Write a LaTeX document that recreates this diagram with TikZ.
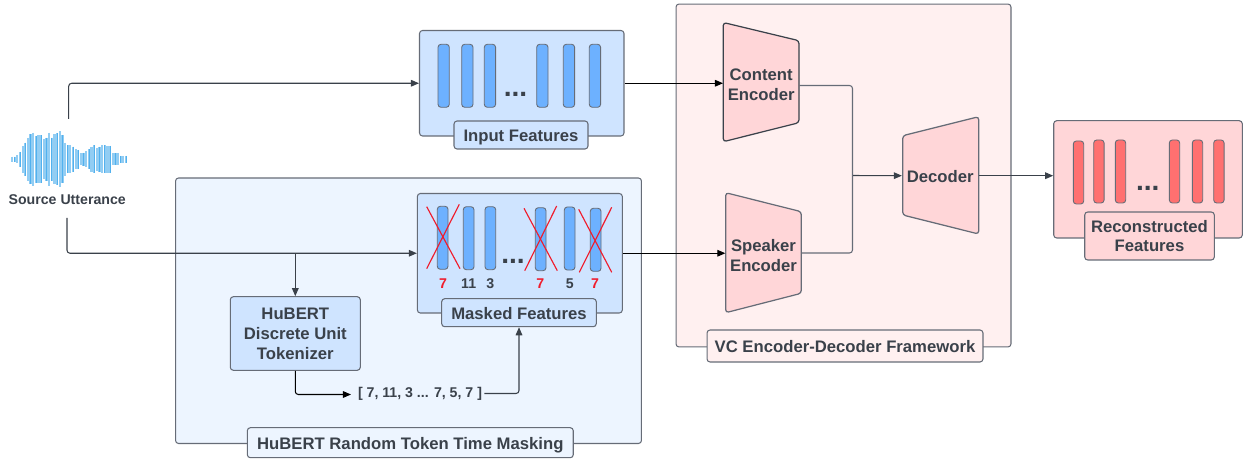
\documentclass[tikz,border=0pt]{standalone}
\usepackage{fontspec}
\setmainfont{Liberation Sans}
\usetikzlibrary{arrows.meta}
\definecolor{inkgray}{HTML}{3A414A}
\definecolor{edgegray}{HTML}{666C77}
\definecolor{bluefill}{HTML}{CFE4FF}
\definecolor{bluepanel}{HTML}{EDF5FF}
\definecolor{bluebar}{HTML}{6DB1FF}
\definecolor{redfill}{HTML}{FFD6D8}
\definecolor{redpanel}{HTML}{FFF0F0}
\definecolor{redbar}{HTML}{FF7070}
\definecolor{crossred}{HTML}{F01C2C}
\definecolor{wavelight}{HTML}{92CDF3}
\definecolor{wavedark}{HTML}{52B1EE}
\tikzset{
	box/.style={draw=edgegray, line width=0.6pt, rounded corners=1.7pt, text=inkgray, align=center, inner sep=0pt, font=\fontsize{9.5}{11.3}\selectfont\bfseries},
	oneline/.style={text height=7.9pt, text depth=0pt},
	txt/.style={text=inkgray, inner sep=0pt, font=\fontsize{8.05}{10}\selectfont\bfseries},
	dots/.style={text=inkgray, inner sep=0pt, anchor=base, font=\fontsize{16}{16}\selectfont\bfseries},
	trap/.style={draw=edgegray, line width=0.7pt, rounded corners=1.7pt, fill=redfill},
	traptxt/.style={text=inkgray, align=center, inner sep=0pt, font=\fontsize{9.5}{11.3}\selectfont\bfseries},
	bluebarstyle/.style={draw=edgegray, line width=0.5pt, rounded corners=1.7pt, fill=bluebar},
	redbarstyle/.style={draw=edgegray, line width=0.5pt, rounded corners=1.7pt, fill=redbar},
	cross/.style={draw=crossred, line width=0.65pt},
	conn/.style={draw=inkgray, line width=0.6pt, rounded corners=1.7pt},
	arrow/.style={conn, -{Triangle[length=4.6pt,width=3.8pt]}}
}

\begin{document}
\begin{tikzpicture}[x=0.02cm, y=-0.02cm]
	\useasboundingbox (0, 0) rectangle (1247, 459);
	
	% panels
	\node[box, fill=bluepanel, minimum width=9.32cm, minimum height=5.31cm] (maskpanel) at (408.5, 310.75) {};
	\node[box, fill=redpanel, minimum width=6.7cm, minimum height=6.86cm] (vcpanel) at (843.5, 175.5) {};
	\node[box, oneline, fill=bluepanel, minimum width=6.52cm, minimum height=0.6cm] (masklabel) at (410.3, 442.7) {HuBERT Random Token Time Masking};
	\node[box, oneline, fill=redpanel, minimum width=5.52cm, minimum height=0.64cm] (vclabel) at (845, 346) {VC Encoder-Decoder Framework};
	
	% waveform
	\foreach \h [count=\i] in {8,8,12,22,40,50,65,75,80,70,72,72,60,65,80,65,75,78,84,72,50,42,42,38,30,28,18,20,24,30,38,42,34,38,42,42,40,40,18,18,18,10,10,10} {
		\pgfmathsetmacro{\xpos}{9.4+2.65*\i}
		\pgfmathsetmacro{\ypos}{\h/3}
		\draw[wavelight, line width=1.3pt] (\xpos, 159.3-\ypos) -- (\xpos, 159.3+\ypos);
		\ifodd\i\else
			\draw[wavedark, line width=0.45pt] (\xpos, 159.3-\ypos) -- (\xpos, 159.3+\ypos);
		\fi
	}
	\node[txt] (source) at (67.2, 199.5) {Source Utterance};
	\coordinate (sourcetop) at (68.7, 119);
	\coordinate (sourcebot) at (67, 218);
	
	% input features
	\node[box, fill=bluefill, minimum width=4.09cm, minimum height=2.11cm] (inputbox) at (521.75, 83.25) {};
	\foreach \x in {438, 461.7, 484.3, 536.7, 563.3, 589.3}
		\draw[bluebarstyle] (\x, 44.3) rectangle ++(11.3, 63);
	\node[dots] (inputdots) at (515.5, 97) {...};
	\node[box, oneline, fill=bluefill, minimum width=2.68cm, minimum height=0.56cm] (inputlabel) at (521, 135) {Input Features};
	
	% masked features
	\node[box, fill=bluefill, minimum width=4.1cm, minimum height=2.39cm] (maskbox) at (519.85, 253.25) {};
	\draw[bluebarstyle] (437.3, 206.3) rectangle ++(10.7, 63);
	\draw[bluebarstyle] (463.3, 206.7) rectangle ++(10.7, 63);
	\draw[bluebarstyle] (485, 206.7) rectangle ++(10.7, 63);
	\draw[bluebarstyle] (535.3, 207.7) rectangle ++(10.7, 63);
	\draw[bluebarstyle] (564.3, 207) rectangle ++(10.7, 63);
	\draw[bluebarstyle] (590.3, 208.3) rectangle ++(10.7, 63);
	\draw[cross] (426.7, 206.7) -- (460, 268.7);
	\draw[cross] (459.3, 204.3) -- (426.7, 268.7);
	\draw[cross] (524, 208.3) -- (557.3, 270.7);
	\draw[cross] (556.7, 206) -- (524.7, 270.7);
	\draw[cross] (578.7, 209.3) -- (611.7, 272.3);
	\draw[cross] (611.7, 207.3) -- (579.3, 272.3);
	\node[dots] (maskdots) at (513, 263) {...};
	\node[txt, text=crossred] (numa) at (443, 283.5) {7};
	\node[txt] (numb) at (468.7, 283.5) {11};
	\node[txt] (numc) at (490.3, 283.5) {3};
	\node[txt, text=crossred] (numd) at (540.3, 283.5) {7};
	\node[txt] (nume) at (569.7, 283.5) {5};
	\node[txt, text=crossred] (numf) at (595, 283.5) {7};
	\node[box, oneline, fill=bluefill, minimum width=3.092cm, minimum height=0.56cm] (masktitle) at (519, 312.7) {Masked Features};
	
	% tokenizer
	\node[box, fill=bluefill, minimum width=2.6cm, minimum height=1.472cm] (tokenizer) at (295.3, 333.5) {HuBERT\\Discrete Unit\\Tokenizer};
	\node[txt] (tokens) at (420, 393.5) {[ 7, 11, 3 ... 7, 5, 7 ]};
	
	% encoders and decoder
	\draw[trap, draw=inkgray] (723.3, 22.5) -- (799, 40.7) -- (799, 122.7) -- (723.3, 141.7) -- cycle;
	\node[traptxt, minimum width=1.514cm] (content) at (761.2, 85) {Content\\Encoder};
	\draw[trap] (725.7, 192.7) -- (801.3, 211.7) -- (801.3, 293.3) -- (725.7, 312.7) -- cycle;
	\node[traptxt, minimum width=1.512cm] (speaker) at (763.5, 255.5) {Speaker\\Encoder};
	\draw[trap] (902.7, 135.7) -- (978.7, 116.7) -- (978.7, 234) -- (902.7, 215) -- cycle;
	\node[traptxt, oneline, minimum width=1.52cm] (decoder) at (940.2, 175.7) {Decoder};
	
	% reconstructed features
	\node[box, fill=redfill, minimum width=3.772cm, minimum height=2.346cm] (reconbox) at (1148, 179.35) {};
	\draw[redbarstyle] (1073.3, 141) rectangle ++(10.4, 63);
	\foreach \x in {1093.7, 1115.3, 1169.3, 1192.3, 1213.7}
		\draw[redbarstyle] (\x, 140) rectangle ++(10.4, 63);
	\node[dots] (recondots) at (1147.8, 191) {...};
	\node[box, fill=redfill, minimum width=2.592cm, minimum height=0.96cm] (reconlabel) at (1149.5, 236) {Reconstructed\\Features};
	
	% connectors
	\coordinate (merge) at (852.5, 175.5);
	\coordinate (branch) at (tokenizer.north |- maskbox.west);
	\draw[arrow] (sourcetop) |- (inputbox.west);
	\draw[arrow] (sourcebot) |- (maskbox.west);
	\draw[arrow] (branch) -- (tokenizer.north);
	\draw[arrow, draw=black] (tokenizer.south) |- (351, 394.5);
	\draw[arrow] (tokens.east) ++(2, 0) -| (masktitle.south);
	\draw[arrow, draw=black] (inputbox.east) -- (inputbox.east -| content.west);
	\draw[arrow, draw=black] (maskbox.east) -- (maskbox.east -| speaker.west);
	\draw[conn, draw=edgegray] (content.east |- 0, 85.5) -| (merge);
	\draw[conn, draw=edgegray] (speaker.east |- 0, 253) -| (merge);
	\draw[arrow] (merge) -- (decoder.west);
	\draw[arrow] (decoder.east) -- (decoder.east -| reconbox.west);
\end{tikzpicture}
\end{document}
